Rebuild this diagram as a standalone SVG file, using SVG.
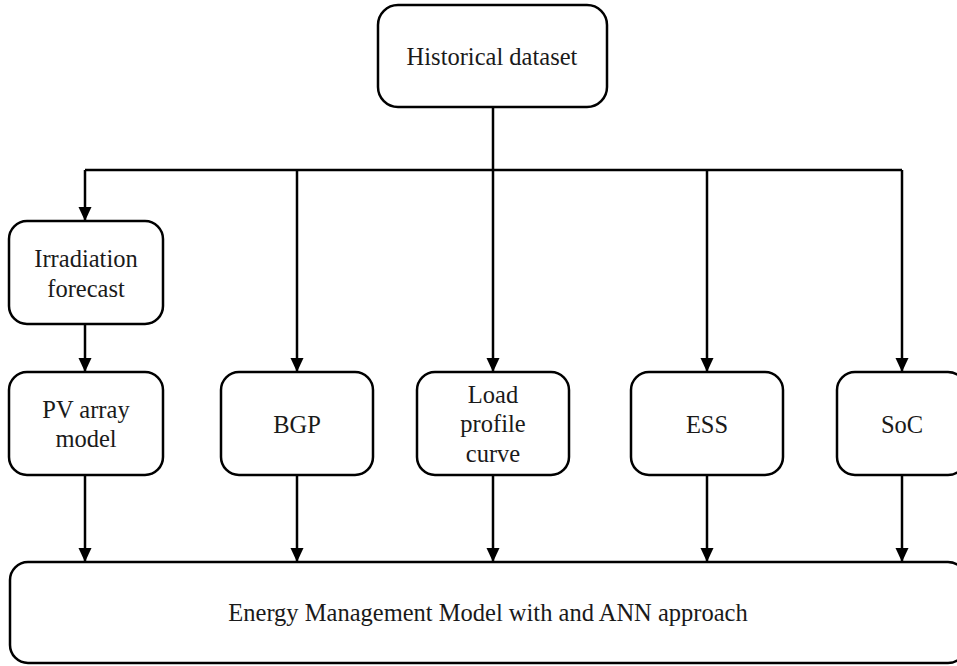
<svg xmlns="http://www.w3.org/2000/svg" width="957" height="666" viewBox="0 0 957 666">
  <style>
    .box { fill: #ffffff; stroke: #000000; stroke-width: 2.5; }
    .lbl { font-family: 'Liberation Serif', 'DejaVu Serif', serif; font-size: 24.5px; fill: #1a1a1a; text-anchor: middle; }
    .wire { fill: none; stroke: #000000; stroke-width: 2.5; }
    .arr { marker-end: url(#head); }
  </style>
  <defs>
    <marker id="head" markerUnits="userSpaceOnUse" markerWidth="14" markerHeight="14" viewBox="0 0 14 14" refX="14" refY="7" orient="auto">
      <path d="M0,0.5 L14,7 L0,13.5 Z" fill="#000000"/>
    </marker>
  </defs>
  <rect width="957" height="666" fill="#ffffff"/>

  <!-- connectors: trunk, distribution bus, and drops into the model -->
  <g id="connectors">
    <path class="wire" d="M493,107 V170"/>
    <path class="wire" d="M85,170 H902"/>
    <path class="wire arr" d="M85,170 V221"/>
    <path class="wire arr" d="M297,170 V372"/>
    <path class="wire arr" d="M493,170 V372"/>
    <path class="wire arr" d="M707,170 V372"/>
    <path class="wire arr" d="M902,170 V372"/>
    <path class="wire arr" d="M85,324 V372"/>
    <path class="wire arr" d="M85,475 V562"/>
    <path class="wire arr" d="M297,475 V562"/>
    <path class="wire arr" d="M493,475 V562"/>
    <path class="wire arr" d="M707,475 V562"/>
    <path class="wire arr" d="M902,475 V562"/>
  </g>

  <g id="historical">
    <rect class="box" x="378" y="5" width="229" height="102" rx="20"/>
    <text class="lbl" x="492" y="65">Historical dataset</text>
  </g>

  <g id="irradiation">
    <rect class="box" x="9" y="221" width="154" height="103" rx="18"/>
    <text class="lbl" x="86" y="267">Irradiation</text>
    <text class="lbl" x="86" y="297">forecast</text>
  </g>

  <g id="pv">
    <rect class="box" x="9" y="372" width="154" height="103" rx="18"/>
    <text class="lbl" x="86" y="418">PV array</text>
    <text class="lbl" x="86" y="447">model</text>
  </g>

  <g id="bgp">
    <rect class="box" x="221" y="372" width="152" height="103" rx="18"/>
    <text class="lbl" x="297" y="433">BGP</text>
  </g>

  <g id="load">
    <rect class="box" x="417" y="372" width="152" height="103" rx="18"/>
    <text class="lbl" x="493" y="403">Load</text>
    <text class="lbl" x="493" y="432">profile</text>
    <text class="lbl" x="493" y="462">curve</text>
  </g>

  <g id="ess">
    <rect class="box" x="631" y="372" width="152" height="103" rx="18"/>
    <text class="lbl" x="707" y="433">ESS</text>
  </g>

  <g id="soc">
    <rect class="box" x="837" y="372" width="129" height="103" rx="18"/>
    <text class="lbl" x="902" y="433">SoC</text>
  </g>

  <g id="ems">
    <rect class="box" x="10" y="562" width="956" height="101" rx="18"/>
    <text class="lbl" x="488" y="621">Energy Management Model with and ANN approach</text>
  </g>
</svg>
